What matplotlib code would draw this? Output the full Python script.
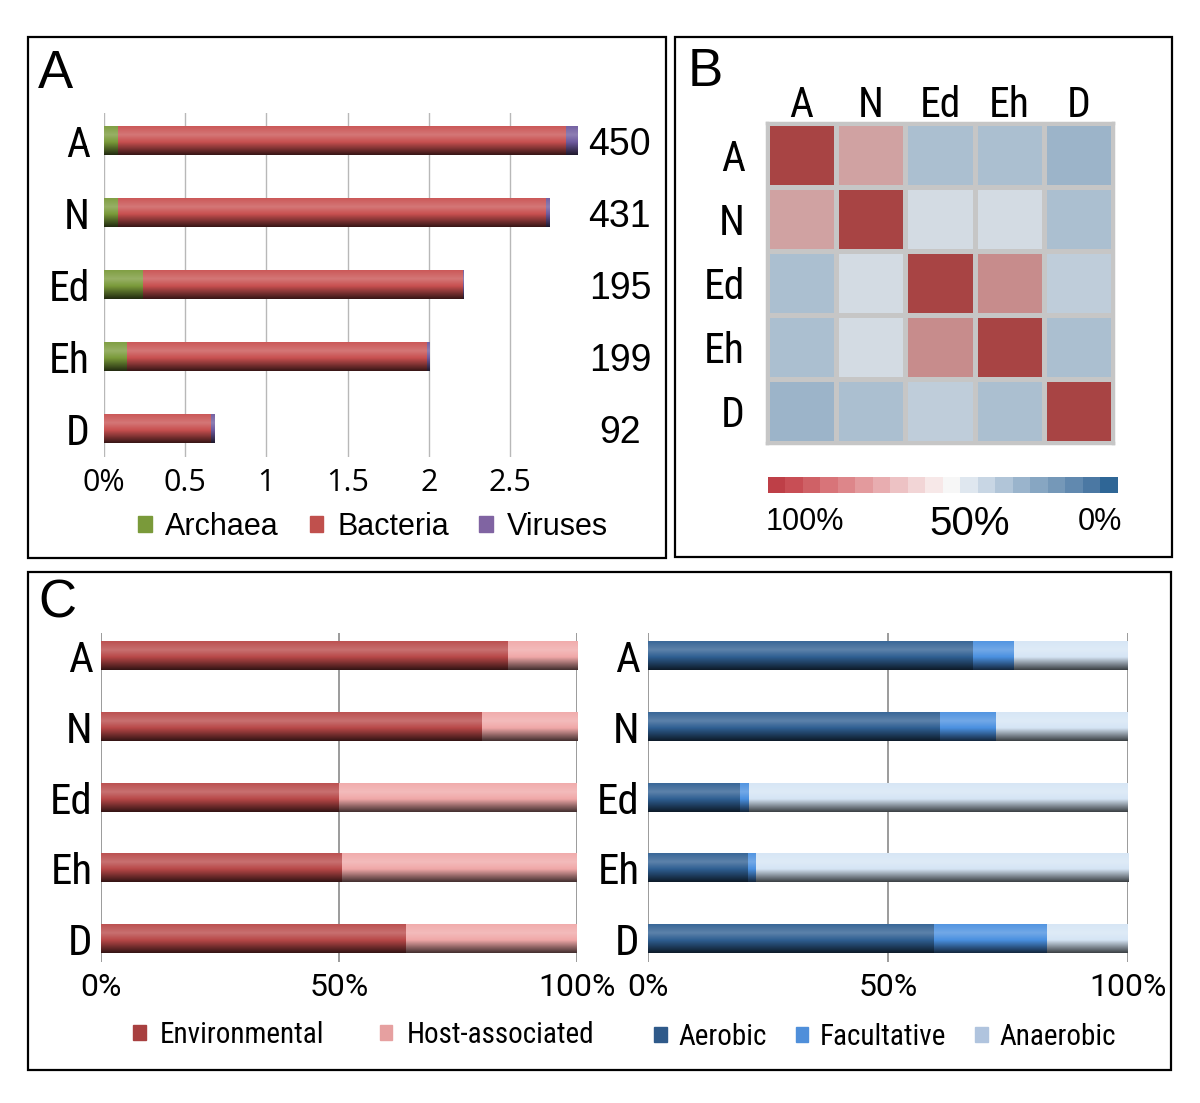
import matplotlib
matplotlib.use('Agg')
import matplotlib.pyplot as plt
import numpy as np
from matplotlib import font_manager as fm
from matplotlib.colors import to_rgb, ListedColormap, LinearSegmentedColormap
from matplotlib.patches import Rectangle, Patch

W, H = 1200, 1103
ARIAL = ['Liberation Sans', 'DejaVu Sans']
plt.rcParams['font.family'] = ARIAL

# ---------- data ----------
cats = ['A', 'N', 'Ed', 'Eh', 'D']

# panel A: relative abundance of each domain (stacked)
archaea = [0.085, 0.088, 0.239, 0.143, 0.0]
bacteria = [2.759, 2.636, 1.970, 1.844, 0.658]
viruses = [0.068, 0.020, 0.004, 0.016, 0.020]
totals = [450, 431, 195, 199, 92]
a_ticks = [0, 0.5, 1, 1.5, 2, 2.5]
a_ticklabels = ['0%', '0.5', '1', '1.5', '2', '2.5']

# panel B: pairwise similarity (%)
similarity = np.array([
    [100, 73, 32, 32, 28],
    [73, 100, 42, 42, 32],
    [32, 42, 100, 79, 37],
    [32, 42, 79, 100, 32],
    [28, 32, 37, 32, 100],
])
cbar_colors = ['#BE3F47', '#C84E55', '#CF6166', '#D87479', '#DD868A',
               '#E39A9D', '#E8ADB0', '#EDC2C4', '#F2D5D6', '#F7E8E8',
               '#F7F7F7', '#DFE7EF', '#C8D6E4', '#B1C5D8', '#9AB4CC',
               '#87A6C2', '#7598B8', '#6189AF', '#4B78A3', '#2F6696']

# panel C: habitat and oxygen requirement (%)
environmental = [85.5, 80.0, 50.0, 50.7, 64.1]
host_associated = [14.5, 20.0, 50.0, 49.3, 35.9]
aerobic = [67.8, 60.9, 19.1, 20.8, 59.5]
facultative = [8.5, 11.6, 2.0, 1.6, 23.7]
anaerobic = [23.7, 27.5, 78.9, 77.6, 16.8]
c_ticks = [0, 50, 100]
c_ticklabels = ['0%', '50%', '100%']


# condensed sans for the category labels (Roboto Condensed if present)
def find_narrow():
    prefs = ['Liberation Sans Narrow', 'Roboto Condensed', 'Open Sans Condensed',
             'Noto Sans Condensed', 'DejaVu Sans Condensed']
    ok = [f for f in fm.fontManager.ttflist
          if f.style == 'normal' and str(f.weight) in ('400', 'normal', 'regular')]
    for p in prefs:
        for f in ok:
            if f.name == p:
                return f.fname
    for f in ok:
        if 'Condensed' in f.fname or 'Narrow' in f.fname:
            return f.fname
    return None


NARROW_FILE = find_narrow()


def narrow(size):
    if NARROW_FILE:
        return fm.FontProperties(fname=NARROW_FILE, size=size)
    return fm.FontProperties(family='DejaVu Sans', stretch='condensed', size=size)


def fam(names, size):
    return fm.FontProperties(family=names, size=size)


def shade(color, n=64):
    base = np.array(to_rgb(color))
    t = np.linspace(0, 1, n)
    lift = np.interp(t, [0, 0.3, 0.55, 1], [0.05, 0.22, 0.0, -0.72])
    rgb = np.where(lift[:, None] > 0,
                   base + (1 - base) * lift[:, None],
                   base * (1 + lift[:, None]))
    return rgb[:, None, :]


def glossy_barh(ax, y, width, left, color, height):
    bars = ax.barh(y, width, left=left, height=height, color=color, zorder=2)
    img = shade(color)
    for p in bars:
        if p.get_width() <= 0:
            continue
        x0, y0 = p.get_x(), p.get_y()
        ax.imshow(img, extent=(x0, x0 + p.get_width(), y0 + p.get_height(), y0),
                  aspect='auto', origin='upper', interpolation='bilinear', zorder=3)
    return bars


def add_ax(l, t, r, b):
    return fig.add_axes([l / W, 1 - b / H, (r - l) / W, (b - t) / H])


def box(l, t, r, b):
    fig.add_artist(Rectangle((l / W, 1 - b / H), (r - l) / W, (b - t) / H,
                             fill=False, lw=1.6, ec='black',
                             transform=fig.transFigure))


fig = plt.figure(figsize=(W / 100, H / 100), dpi=100)
fig.patch.set_facecolor('white')

box(28, 37, 666, 558)
box(675, 37, 1172, 557)
box(28, 572, 1171, 1070)
fig.text(38 / W, 1 - 74 / H, 'A', fontsize=38, va='center')
fig.text(688 / W, 1 - 72 / H, 'B', fontsize=38, va='center')
fig.text(38 / W, 1 - 604 / H, 'C', fontsize=38, va='center')

# ---------- panel A ----------
y = np.arange(len(cats))
axA = add_ax(104, 113, 583, 457)
left = np.zeros(len(cats))
for vals, col in [(archaea, '#7A9A3A'), (bacteria, '#C85050'), (viruses, '#6E5A9E')]:
    glossy_barh(axA, y, vals, left, col, 0.40)
    left = left + np.array(vals)
axA.set_xlim(0, 2.95)
axA.set_ylim(4.39, -0.39)
axA.set_xticks(a_ticks)
axA.set_xticklabels(a_ticklabels)
axA.set_yticks(y)
axA.set_yticklabels(cats)
for lbl in axA.get_xticklabels():
    lbl.set_fontproperties(fam(['Open Sans', 'DejaVu Sans'], 22))
for lbl in axA.get_yticklabels():
    lbl.set_fontproperties(narrow(30))
axA.tick_params(length=0, pad=8)
axA.tick_params(axis='y', pad=10)
axA.grid(axis='x', color='#B8B8B8', lw=1)
axA.set_axisbelow(True)
for s in axA.spines.values():
    s.set_visible(False)
for yi, tot in zip(y, totals):
    axA.text(1.077, yi + 0.05, str(tot), transform=axA.get_yaxis_transform(),
             ha='center', va='center', fontsize=27)
hA = [Patch(color='#7A9A3A', label='Archaea'), Patch(color='#C0504D', label='Bacteria'),
      Patch(color='#8064A2', label='Viruses')]
axA.legend(handles=hA, loc='center', bbox_to_anchor=(373 / W, 1 - 527 / H),
           bbox_transform=fig.transFigure, ncol=3, frameon=False, fontsize=22,
           handlelength=0.45, handleheight=0.45, handletextpad=0.45,
           columnspacing=1.0, borderpad=0)

# ---------- panel B ----------
axB = add_ax(767, 123, 1113, 443)
heat_cmap = LinearSegmentedColormap.from_list(
    'sim', [(0, '#2F6696'), (0.5, '#F2F2F2'), (1, '#A84444')])
axB.pcolormesh(similarity, cmap=heat_cmap, vmin=0, vmax=100,
               edgecolors='#C6C6C6', linewidth=2.5)
axB.set_xlim(0, 5)
axB.set_ylim(5, 0)
axB.set_xticks(np.arange(5) + 0.5)
axB.set_xticklabels(cats)
axB.set_yticks(np.arange(5) + 0.5)
axB.set_yticklabels(cats)
axB.xaxis.tick_top()
for t in axB.xaxis.get_major_ticks():
    t.label1.set_fontproperties(narrow(30))
    t.label2.set_fontproperties(narrow(30))
for lbl in axB.get_yticklabels():
    lbl.set_fontproperties(narrow(30))
axB.tick_params(length=0)
axB.tick_params(axis='x', pad=-2)
axB.tick_params(axis='y', pad=16)
for s in axB.spines.values():
    s.set_color('#C6C6C6')
    s.set_linewidth(2.5)

axCb = add_ax(768, 477, 1118, 493)
axCb.imshow(np.arange(len(cbar_colors))[None, :], cmap=ListedColormap(cbar_colors),
            aspect='auto', interpolation='nearest')
axCb.axis('off')
fig.text(805 / W, 1 - 522 / H, '100%', fontsize=22, ha='center', va='center')
fig.text(970 / W, 1 - 524 / H, '50%', fontsize=29, ha='center', va='center')
fig.text(1100 / W, 1 - 522 / H, '0%', fontsize=22, ha='center', va='center')


# ---------- panel C ----------
def panel_c(ax, series, legend_center, colspace, textpad):
    left = np.zeros(len(cats))
    handles = []
    for vals, col, lcol, name in series:
        glossy_barh(ax, y, vals, left, col, 0.40)
        left = left + np.array(vals)
        handles.append(Patch(color=lcol, label=name))
    ax.set_xlim(0, 100)
    ax.set_ylim(4.33, -0.33)
    ax.set_xticks(c_ticks)
    ax.set_xticklabels(c_ticklabels)
    ax.set_yticks(y)
    ax.set_yticklabels(cats)
    for lbl in ax.get_xticklabels():
        lbl.set_fontproperties(fam(['Roboto', 'DejaVu Sans'], 23))
    for lbl in ax.get_yticklabels():
        lbl.set_fontproperties(narrow(31))
    ax.tick_params(length=0, pad=8)
    ax.tick_params(axis='y', pad=6)
    ax.grid(axis='x', color='#808080', lw=1.1)
    ax.set_axisbelow(True)
    for s in ax.spines.values():
        s.set_visible(False)
    ax.legend(handles=handles, loc='center', bbox_to_anchor=legend_center,
              bbox_transform=fig.transFigure, ncol=len(handles), frameon=False,
              prop=narrow(21), handlelength=0.42, handleheight=0.42,
              handletextpad=textpad, columnspacing=colspace, borderpad=0)


axC1 = add_ax(101, 633, 577, 962)
panel_c(axC1, [(environmental, '#B84848', '#A84040', 'Environmental'),
               (host_associated, '#F0A8A8', '#E6A0A0', 'Host-associated')],
        (364 / W, 1 - 1035 / H), 1.9, 0.5)
axC2 = add_ax(648, 633, 1128, 962)
panel_c(axC2, [(aerobic, '#2F5F92', '#2F5A8A', 'Aerobic'),
               (facultative, '#4A90E0', '#4F8FDA', 'Facultative'),
               (anaerobic, '#D5E5F5', '#B0C4DE', 'Anaerobic')],
        (885 / W, 1 - 1037 / H), 1.0, 0.4)

fig.savefig('out.png', dpi=100, facecolor='white')
